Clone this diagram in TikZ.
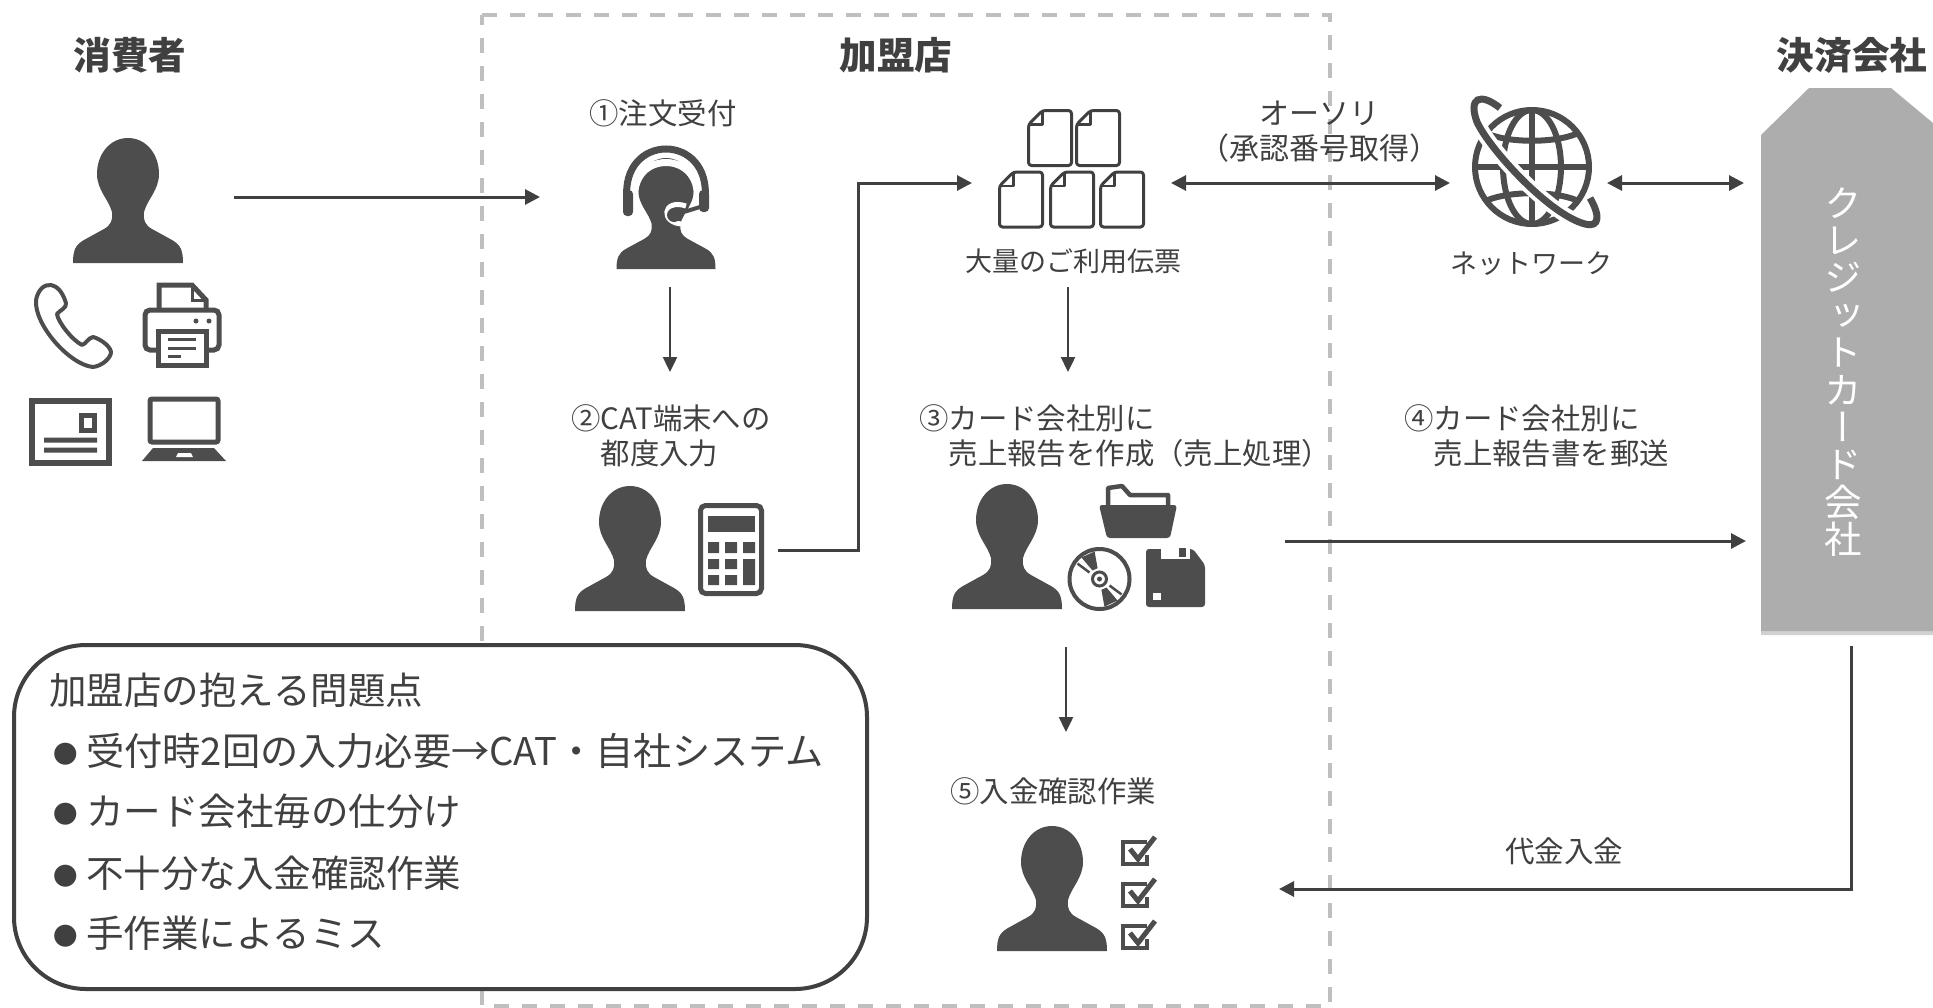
\documentclass[tikz,border=0pt]{standalone}
\usepackage{fontspec}
\setmainfont{Noto Sans CJK JP}
\newfontfamily\cjkvert[RawFeature=+vert]{Noto Sans CJK JP}
\usetikzlibrary{arrows.meta}
\definecolor{ink}{HTML}{404040}
\definecolor{iconc}{HTML}{4D4D4D}
\definecolor{dashc}{HTML}{BFBFBF}
\definecolor{cardc}{HTML}{ADADAD}
\newcommand\fs[2]{\fontsize{#1pt}{#2pt}\selectfont}
\newcommand\bul{\makebox[33pt][l]{\raisebox{2pt}{\fs{24.5}{44}●}}}
\newcommand\icoPerson[4]{% cx, top, xscale, yscale
  \fill[iconc,shift={(#1,#2)},xscale=#3,yscale=#4]
    (0,0) .. controls (18,0) and (31,16) .. (31,36)
    .. controls (31,52) and (19,62) .. (16,74)
    .. controls (15,82) and (17,87) .. (24,91)
    -- (44,102) .. controls (53,107) and (55,113) .. (55,125)
    -- (-55,125) .. controls (-55,113) and (-53,107) .. (-44,102)
    -- (-24,91) .. controls (-17,87) and (-15,82) .. (-16,74)
    .. controls (-19,62) and (-31,52) .. (-31,36)
    .. controls (-31,16) and (-18,0) .. (0,0) -- cycle;}
\newcommand\icoDoc[2]{%
  \draw[ink,line width=3pt,rounded corners=3pt,line join=round,shift={(#1,#2)}]
    (14,0) -- (43,0) -- (43,55) -- (0,55) -- (0,14) -- cycle;
  \draw[ink,line width=2.6pt,line join=round,shift={(#1,#2)}] (14,0) -- (14,14) -- (0,14);}
\newcommand\icoCheck[2]{%
  \draw[iconc,line width=4.5pt,shift={(#1,#2)}] (26,4) -- (2,4) -- (2,26) -- (26,26) -- (26,17);
  \draw[iconc,line width=5pt,shift={(#1,#2)}] (9,11) -- (17,21) -- (34,-1);}
\tikzset{
  x=1pt,y=-1pt,
  frame/.style={dashc,line width=3.5pt,dash pattern=on 15pt off 13pt},
  flow/.style={ink,line width=3pt,-{Triangle[length=15pt,width=15pt]}},
  thinflow/.style={ink,line width=2.4pt,-{Triangle[length=15pt,width=14pt]}},
  twoway/.style={ink,line width=3pt,{Triangle[length=15pt,width=15pt]}-{Triangle[length=15pt,width=15pt]}},
  head/.style={inner sep=0pt,text=ink,font=\fs{37.6}{40}\bfseries},
  lab/.style={inner sep=0pt,text=ink,font=\fs{29.4}{35},align=left},
  small/.style={inner sep=0pt,text=ink,font=\fs{27}{32}},
  note/.style={inner sep=0pt,text=ink,font=\fs{37.5}{44},anchor=west},
}
\begin{document}
\begin{tikzpicture}
\useasboundingbox (0,0) rectangle (1933,1007);
% dashed frame
\draw[frame] (482,15) -- (1330,15) -- (1330,1006) -- (482,1006) -- cycle;

% anchors for connectors
\coordinate (c1a) at (234,197);  \coordinate (c1b) at (540,197);
\coordinate (c2a) at (670,287);  \coordinate (c2b) at (670,372);
\coordinate (c3a) at (778,550);  \coordinate (c3m) at (858,183); \coordinate (c3b) at (972,183);
\coordinate (c4a) at (1068,287); \coordinate (c4b) at (1068,372);
\coordinate (c5a) at (1171,183); \coordinate (c5b) at (1450,183);
\coordinate (c6a) at (1607,183); \coordinate (c6b) at (1744,183);
\coordinate (c7a) at (1285,541); \coordinate (c7b) at (1746,541);
\coordinate (c8a) at (1066,647); \coordinate (c8b) at (1066,732);
\coordinate (c9a) at (1851,646); \coordinate (c9m) at (1851,889); \coordinate (c9b) at (1279,889);

\draw[flow] (c1a) -- (c1b);
\draw[thinflow] (c2a) -- (c2b);
\draw[flow] (c3a) -| (c3m) -- (c3b);
\draw[thinflow] (c4a) -- (c4b);
\draw[twoway] (c5a) -- (c5b);
\draw[twoway] (c6a) -- (c6b);
\draw[flow] (c7a) -- (c7b);
\draw[thinflow] (c8a) -- (c8b);
\draw[flow] (c9a) -- (c9m) -- (c9b);

% headings
\node[head] (hA) at (130,55) {消費者};
\node[head] (hB) at (896,55) {加盟店};
\node[head] (hC) at (1852,55) {決済会社};

% labels
\node[lab] (s1) at (663,113) {①注文受付};
\node[lab,anchor=west] (s2) at (571,436) {②CAT端末への\\\hspace*{1em}都度入力};
\node[lab,anchor=west] (s3) at (919,436) {③カード会社別に\\\hspace*{1em}売上報告を作成（売上処理）};
\node[lab,anchor=west] (s4) at (1404,436) {④カード会社別に\\\hspace*{1em}売上報告書を郵送};
\node[lab,anchor=west] (s5) at (950,791) {⑤入金確認作業};
\node[small] (t1) at (1073,261) {大量のご利用伝票};
\node[small] (t2) at (1531,264) {ネットワーク};
\node[lab,align=center,font=\fs{30}{35}] (t3) at (1319,132) {オーソリ\\（承認番号取得）};
\node[small,font=\fs{29.5}{32}] (t4) at (1564,851) {代金入金};

% consumer
\icoPerson{128}{138}{1}{1}
% phone
\draw[iconc,line width=4pt,line join=round]
  (36,300) .. controls (38,290) and (44,284) .. (51,285)
  .. controls (56,286) and (62,290) .. (66,303)
  .. controls (67,308) and (60,310) .. (57,314)
  .. controls (58,322) and (72,340) .. (82,345)
  .. controls (86,344) and (88,338) .. (93,337)
  .. controls (98,338) and (110,345) .. (111,352)
  .. controls (111,358) and (102,366) .. (93,367)
  .. controls (70,365) and (34,325) .. (36,300) -- cycle;
% printer
\draw[iconc,line width=5pt,line join=miter] (159,308) -- (159,285) -- (192,285) -- (206,300) -- (206,308);
\draw[iconc,line width=3pt] (192,285) -- (192,300) -- (206,300);
\draw[iconc,line width=5pt,rounded corners=5pt] (145,310) rectangle (219,350);
\fill[iconc] (196,321) circle[radius=2.5pt] (209,321) circle[radius=2.5pt];
\draw[iconc,line width=5pt,fill=white] (158,331) rectangle (206,365);
\draw[iconc,line width=3pt] (168,339) -- (196,339) (168,348) -- (196,348) (168,356) -- (181,356);
% card
\draw[iconc,line width=6pt] (32,401) rectangle (109,463);
\draw[iconc,line width=5pt] (81,415) rectangle (94,430);
\fill[iconc] (44,437.5) rectangle (97,442.5) (44,447.5) rectangle (97,452.5);
% laptop
\draw[iconc,line width=5pt,rounded corners=2pt] (150,399) rectangle (218,442);
\fill[iconc] (153,448) -- (214,448) -- (226,461) -- (142,461) -- cycle;
\fill[white] (178,453) -- (191,453) -- (193,457) -- (176,457) -- cycle;

% headset person
\icoPerson{666}{158}{.9}{.888}
\draw[white,line width=7pt] (635,200) .. controls (630,150) and (702,150) .. (697,200);
\draw[iconc,line width=7pt] (627,200) .. controls (620,132) and (712,132) .. (705,200);
\fill[iconc,rounded corners=4pt] (623,190) rectangle (633,216);
\fill[iconc,rounded corners=4pt] (699,190) rectangle (709,212);
\draw[white,line width=5pt] (686,206) .. controls (662,198) and (660,224) .. (683,224);
\draw[iconc,line width=4pt] (674,215) -- (700,207);
\fill[iconc] (674,215) circle[radius=7pt];

% person + calculator
\icoPerson{630}{486}{1}{1}
\draw[iconc,line width=5pt,rounded corners=5pt] (700.5,505.5) rectangle (761.5,593.5);
\fill[iconc] (708,516) rectangle (755,532);
\fill[iconc] (708,542) rectangle (719,553) (725,542) rectangle (737,553) (743,542) rectangle (755,553)
  (708,559) rectangle (719,569) (725,559) rectangle (737,569) (743,559) rectangle (755,585)
  (708,575) rectangle (719,585) (725,575) rectangle (737,585);

% documents
\icoDoc{1028.5}{110.5}\icoDoc{1076.5}{110.5}
\icoDoc{999.5}{172}\icoDoc{1050.5}{172}\icoDoc{1100.5}{172}

% globe
\begin{scope}[iconc,line width=6pt]
\draw (1532,167) circle[radius=57pt];
\draw (1532,167) ellipse[x radius=29pt,y radius=57pt];
\draw (1532,110) -- (1532,224) (1475,167) -- (1589,167);
\draw (1488,134) .. controls (1510,143) and (1554,143) .. (1576,134);
\draw (1488,200) .. controls (1510,191) and (1554,191) .. (1576,200);
\end{scope}
\draw[white,line width=15pt] (1500,108) .. controls (1480,92) and (1468,98) .. (1477,122)
  .. controls (1490,150) and (1550,215) .. (1585,224) .. controls (1600,228) and (1600,215) .. (1590,198);
\draw[iconc,line width=7pt] (1500,108) .. controls (1480,92) and (1468,98) .. (1477,122)
  .. controls (1490,150) and (1550,215) .. (1585,224) .. controls (1600,228) and (1600,215) .. (1590,198);

% person + media
\icoPerson{1007}{484}{1}{1}
% folder
\draw[iconc,line width=4.5pt,line join=round] (1108,506) -- (1108,488) -- (1122,486) -- (1130,495) -- (1168,495) -- (1168,506);
\fill[iconc,rounded corners=3pt] (1099,505) -- (1177,505) -- (1170,538) -- (1107,538) -- cycle;
% cd
\draw[iconc,line width=4pt] (1099.5,579) circle[radius=30pt];
\draw[iconc,line width=3pt] (1099.5,579) circle[radius=7pt];
\fill[iconc] (1099.5,579) circle[radius=2.5pt];
\begin{scope}[shift={(1099.5,579)}]
\fill[iconc] (-1.9,-10.8) -- (-7,-8.5) -- (-18,-21.5) -- (-4.9,-27.6) -- cycle;
\fill[iconc] (1.9,10.8) -- (7,8.5) -- (18,21.5) -- (4.9,27.6) -- cycle;
\draw[iconc,line width=2.5pt] (-10,-6.5) -- (-22,-15.4) (10,6.5) -- (22,15.4);
\end{scope}
% floppy
\fill[iconc,rounded corners=3pt] (1146,549) -- (1193,549) -- (1205,565) -- (1205,607) -- (1146,607) -- cycle;
\fill[white] (1161,548) rectangle (1190,559);
\fill[iconc] (1179,548) rectangle (1186,557);
\fill[white] (1153,593) rectangle (1161,600);

% person + checks
\icoPerson{1052}{826}{1}{1}
\icoCheck{1121}{838}\icoCheck{1121}{880}\icoCheck{1121}{922}

% card company
\fill[black!18] (1761,138) -- (1809,91) -- (1891,91) -- (1933,126) -- (1933,635) -- (1761,635) -- cycle;
\fill[cardc] (1761,135) -- (1809,88) -- (1891,88) -- (1933,123) -- (1933,631) -- (1761,631) -- cycle;
\node[inner sep=0pt,align=center,text=white,font=\fs{37.5}{37.4}\cjkvert] (card) at (1843,372)
  {ク\\レ\\ジ\\ッ\\ト\\カ\\ー\\ド\\会\\社};

% problem panel
\draw[ink,line width=4pt,fill=white,rounded corners=72pt] (14,645) rectangle (867,989);
\node[note] (n0) at (49,690) {加盟店の抱える問題点};
\node[note,font=\fs{38.2}{44}] (n1) at (53,751) {\bul 受付時2回の入力必要→CAT・自社システム};
\node[note] (n2) at (53,811) {\bul カード会社毎の仕分け};
\node[note] (n3) at (53,873) {\bul 不十分な入金確認作業};
\node[note] (n4) at (53,933) {\bul 手作業によるミス};
\end{tikzpicture}
\end{document}
